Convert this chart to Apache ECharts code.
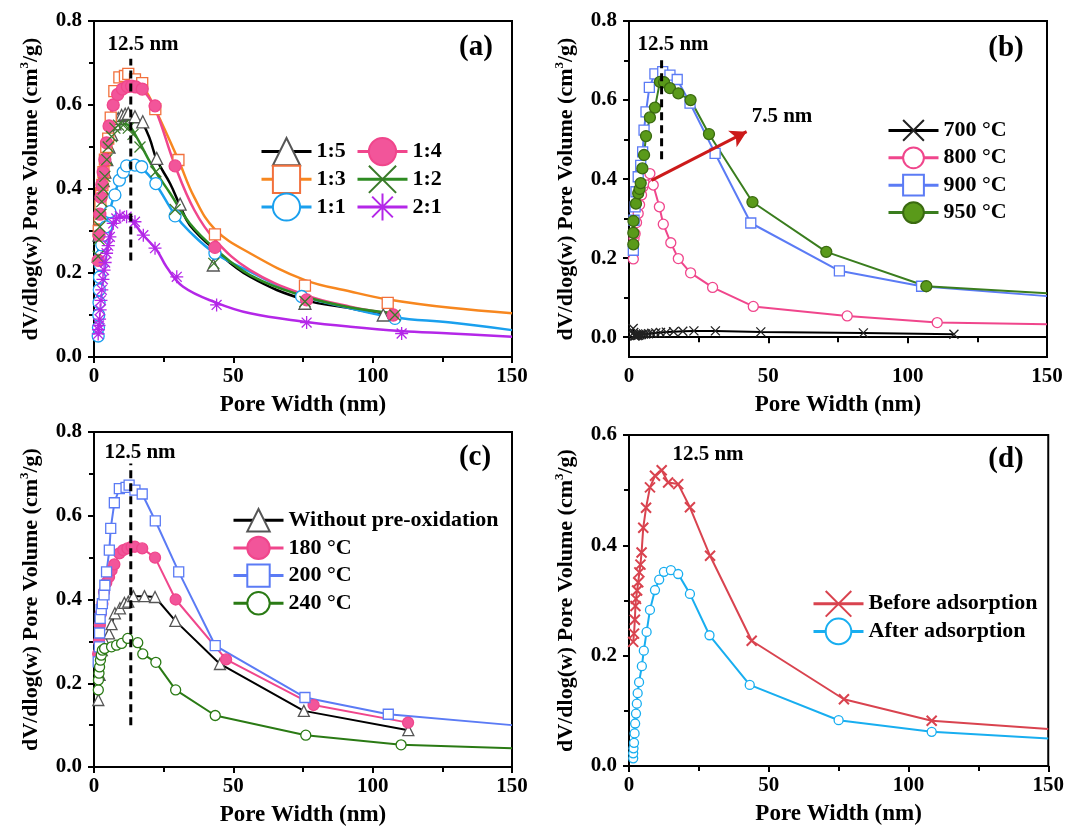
<!DOCTYPE html>
<html>
<head>
<meta charset="utf-8">
<script src="https://cdn.jsdelivr.net/npm/echarts@6/dist/echarts.min.js"></script>
<style>html,body{margin:0;padding:0;background:#fff}#c{width:1067px;height:828px}</style>
</head>
<body>
<div id="c"></div>
<script>
// ---------- Panel (a): markers ----------
const a15X = [1.5,1.8,2.1,2.5,2.8,3.3,3.9,4.6,5.4,6.3,7.5,8.7,9.9,11.2,12.3,14.7,17.5,22.5,30.9,42.8,75.7,103.8];
const a15Y = [0.24,0.29,0.33,0.37,0.40,0.42,0.44,0.47,0.50,0.53,0.555,0.568,0.575,0.578,0.580,0.572,0.560,0.473,0.364,0.219,0.128,0.100];
const a14X = [1.5,1.8,2.1,2.5,2.8,3.3,3.9,4.5,5.4,6.9,8.5,10.2,12.0,13.5,15.0,17.3,21.9,29.1,43.4,76.3,107.4];
const a14Y = [0.23,0.29,0.34,0.38,0.41,0.44,0.47,0.51,0.55,0.60,0.625,0.638,0.644,0.645,0.643,0.638,0.598,0.455,0.261,0.136,0.100];
const a13X = [1.7,2.0,2.3,2.6,3.0,3.4,3.9,4.4,5.1,6.0,7.3,9.1,11.1,12.3,14.7,17.3,22.0,30.3,43.4,75.7,105.4];
const a13Y = [0.30,0.33,0.36,0.39,0.41,0.44,0.47,0.50,0.52,0.57,0.633,0.666,0.669,0.674,0.661,0.652,0.590,0.469,0.292,0.170,0.129];
const a12X = [1.5,1.8,2.1,2.5,2.8,3.3,3.9,4.6,5.1,6.3,7.5,8.8,10.5,12.3,14.0,16.5,22.2,29.1,43.0,75.7,108];
const a12Y = [0.24,0.28,0.31,0.34,0.37,0.40,0.43,0.47,0.50,0.525,0.545,0.552,0.552,0.545,0.53,0.50,0.441,0.351,0.223,0.132,0.100];
const a11X = [1.5,1.6,1.7,1.8,1.9,2.0,2.2,2.4,2.8,3.4,4.3,5.7,7.5,9.1,10.5,11.7,14.7,17.1,22.2,29.1,43.4,74.5,108];
const a11Y = [0.05,0.07,0.10,0.13,0.16,0.19,0.22,0.24,0.267,0.29,0.31,0.346,0.386,0.421,0.44,0.455,0.457,0.453,0.413,0.336,0.247,0.144,0.092];
const a21X = [1.5,1.6,1.8,2.0,2.2,2.5,2.8,3.2,3.6,4.0,4.5,5.1,5.7,6.9,8.0,9.3,11.7,14.7,17.7,21.9,29.7,44.0,76.3,110.4];
const a21Y = [0.055,0.065,0.075,0.09,0.112,0.135,0.16,0.185,0.207,0.225,0.247,0.265,0.286,0.318,0.33,0.336,0.334,0.322,0.29,0.259,0.191,0.124,0.082,0.056];
// ---------- Panel (a): fitted curves ----------
const a15cX = [1.5,2.5,3.5,5.0,7.0,9.0,11.0,13.0,16.0,17.5,20.0,22.5,27.3,30.9,34.4,43.4,56,75.7,92,104];
const a15cY = [0.24,0.36,0.43,0.49,0.545,0.568,0.575,0.572,0.56,0.555,0.52,0.47,0.413,0.36,0.314,0.255,0.191,0.136,0.116,0.100];
const a14cX = [1.5,2.5,3.5,5.0,7.0,9.0,12.0,15.0,18.0,22.0,29.0,36.0,43.4,56,75.7,92,108];
const a14cY = [0.23,0.37,0.45,0.54,0.60,0.632,0.643,0.642,0.632,0.59,0.457,0.35,0.279,0.207,0.148,0.120,0.102];
const a13cX = [1.7,2.5,3.5,5.0,7.0,9.0,12.0,15.0,18.0,22.0,30.3,36.0,43.4,56,75.7,92,105.6,128,150];
const a13cY = [0.30,0.38,0.45,0.53,0.61,0.645,0.66,0.658,0.64,0.59,0.469,0.38,0.304,0.247,0.183,0.156,0.137,0.117,0.104];
const a12cX = [1.5,2.5,3.5,5.0,7.0,9.0,11.0,13.0,16.0,20.0,22.2,27.3,34.4,43.4,56,75.7,92,108];
const a12cY = [0.24,0.36,0.43,0.50,0.54,0.553,0.555,0.548,0.515,0.465,0.44,0.39,0.318,0.258,0.195,0.144,0.118,0.104];
const a11cX = [1.5,1.8,2.2,2.8,3.5,4.5,5.7,7.5,9.1,11.7,14.7,17.1,22.0,29.1,34.4,43.4,56,74.5,92,108,128,150];
const a11cY = [0.05,0.13,0.20,0.26,0.29,0.32,0.35,0.39,0.42,0.45,0.455,0.45,0.413,0.338,0.298,0.247,0.203,0.146,0.116,0.094,0.082,0.064];
const a21cX = [1.5,2.0,2.8,3.6,4.5,5.7,7.0,9.3,11.7,14.7,17.7,22.5,26.0,32.0,44.0,56,75.7,92,110,128,150];
const a21cY = [0.055,0.09,0.16,0.21,0.25,0.285,0.315,0.333,0.333,0.315,0.29,0.255,0.215,0.167,0.129,0.104,0.084,0.072,0.062,0.056,0.048];
const aDashX = [13.2,13.2];
const aDashY = [0.23,0.71];

// ---------- Panel (b) ----------
const b700X = [1.5,1.7,1.9,2.1,2.4,2.7,3.0,3.4,3.9,4.5,5.2,6.0,7.0,8.2,9.6,11.3,13.4,16.0,19.3,23.3,31.0,47.3,84.1,116.6];
const b700Y = [0.022,0.012,0.005,0.003,0.004,0.006,0.004,0.005,0.006,0.007,0.008,0.008,0.009,0.010,0.011,0.012,0.013,0.014,0.015,0.016,0.016,0.0135,0.011,0.0076];
const b800X = [1.55,1.8,2.2,2.7,3.3,3.8,4.5,5.0,5.5,6.3,7.5,8.7,10.9,12.3,15.0,17.7,22.1,30.0,44.6,78.3,110.6,150];
const b800Y = [0.198,0.25,0.262,0.29,0.313,0.335,0.36,0.38,0.39,0.41,0.414,0.385,0.330,0.286,0.239,0.199,0.163,0.126,0.078,0.054,0.037,0.033];
const b900X = [1.55,1.8,2.2,2.5,3.3,4.2,4.9,5.4,6.1,7.3,9.3,12.1,14.7,17.3,21.9,30.9,43.7,75.5,105,150];
const b900Y = [0.22,0.296,0.33,0.368,0.406,0.435,0.469,0.524,0.570,0.632,0.666,0.672,0.663,0.652,0.592,0.465,0.289,0.168,0.129,0.104];
const b950X = [1.55,1.55,1.6,2.5,3.3,3.8,4.2,4.8,5.4,6.1,7.5,9.3,11.1,12.6,14.7,17.7,22.1,28.7,44.3,70.8,106.7,150];
const b950Y = [0.235,0.264,0.294,0.338,0.364,0.375,0.39,0.427,0.461,0.509,0.556,0.581,0.646,0.645,0.63,0.617,0.60,0.514,0.342,0.216,0.129,0.111];
const bDashX = [11.7,11.7];
const bDashY = [0.45,0.71];
const bArrowX = [8.1,42.2];
const bArrowY = [0.397,0.52];

// ---------- Panel (c) ----------
const cWoX = [1.55,2.0,2.8,3.9,5.4,6.3,7.5,9.3,10.9,12.3,14.1,18.1,21.9,29.2,45.2,75.3,112.8];
const cWoY = [0.160,0.22,0.279,0.299,0.319,0.341,0.367,0.379,0.392,0.395,0.408,0.408,0.406,0.349,0.246,0.134,0.088];
const c180X = [1.5,1.8,2.1,2.5,3.0,3.6,4.4,5.4,6.3,7.3,9.1,10.5,12.0,13.5,14.7,17.3,21.9,29.3,47.4,78.8,112.7];
const c180Y = [0.27,0.30,0.339,0.367,0.39,0.418,0.44,0.454,0.47,0.484,0.51,0.518,0.522,0.526,0.526,0.522,0.50,0.40,0.257,0.148,0.106];
const c200X = [1.5,1.9,2.0,2.2,2.6,3.0,3.6,3.9,4.5,5.5,6.0,7.3,9.1,11.5,12.6,14.7,17.3,22.0,30.4,43.5,75.7,105.6,150];
const c200Y = [0.251,0.287,0.320,0.355,0.376,0.390,0.411,0.434,0.466,0.518,0.570,0.631,0.665,0.668,0.673,0.661,0.652,0.588,0.466,0.290,0.166,0.126,0.100];
const c240X = [1.55,1.6,1.8,2.0,2.3,2.6,3.0,3.8,6.3,8.1,9.9,12.1,15.7,17.5,22.2,29.3,43.5,76.0,110.2,150];
const c240Y = [0.184,0.208,0.224,0.239,0.255,0.267,0.279,0.283,0.287,0.291,0.295,0.307,0.297,0.270,0.250,0.184,0.123,0.076,0.053,0.045];
const cDashX = [13.2,13.2];
const cDashY = [0.10,0.725];

// ---------- Panel (d) ----------
const dBeforeX = [1.5,1.8,2.1,2.3,2.5,2.9,3.3,3.7,4.1,4.5,5.1,6.1,7.5,9.3,11.7,14.0,17.6,21.8,29.0,43.9,76.9,108.3,150];
const dBeforeY = [0.225,0.24,0.265,0.290,0.303,0.318,0.333,0.351,0.365,0.387,0.432,0.468,0.505,0.526,0.536,0.514,0.511,0.469,0.381,0.227,0.121,0.082,0.067];
const dAfterX = [1.5,1.5,1.6,1.8,2.0,2.2,2.5,2.8,3.1,3.6,4.6,5.3,6.3,7.5,9.3,10.8,12.5,15.0,17.6,21.8,28.8,43.2,75.0,108.3,150];
const dAfterY = [0.014,0.023,0.032,0.042,0.059,0.077,0.095,0.113,0.132,0.152,0.181,0.209,0.243,0.283,0.319,0.338,0.352,0.355,0.348,0.312,0.237,0.147,0.083,0.062,0.050];

// tick values
const yTicksB = [0,0.2,0.4,0.6,0.8];
const yMinorB = [0.1,0.3,0.5,0.7];

const FONT = "'Liberation Serif','Times New Roman',serif";
const XMAX = 150;

const chart = echarts.init(document.getElementById('c'), null, {renderer:'canvas'});

const grids = [
  {left:94, top:21, width:418, height:336},
  {left:629, top:21, width:418, height:336},
  {left:94, top:432, width:418, height:335},
  {left:629, top:435, width:420, height:331}
].map(g => Object.assign(g, {show:true, borderColor:'#000', borderWidth:2, backgroundColor:'transparent'}));

function xAx(i){
  return {
    type:'value', gridIndex:i, min:0, max:150, interval:50,
    name:'Pore Width (nm)', nameLocation:'middle', nameGap:37,
    nameTextStyle:{fontFamily:FONT, fontWeight:'bold', fontSize:23, color:'#000'},
    axisLine:{lineStyle:{color:'#000', width:2}},
    axisTick:{show:true, length:6, lineStyle:{color:'#000', width:2}},
    minorTick:{show:true, splitNumber:2, length:5, lineStyle:{color:'#000', width:2}},
    axisLabel:{fontFamily:FONT, fontWeight:'bold', fontSize:21, color:'#000', margin:9},
    splitLine:{show:false}
  };
}
const yName = '{a|dV/dlog(w) Pore Volume (cm}{s|3}{a|/g)}';
const yNameStyle = {fontFamily:FONT, fontWeight:'bold', fontSize:22, color:'#000',
  rich:{a:{fontFamily:FONT, fontWeight:'bold', fontSize:22, color:'#000', lineHeight:26},
        s:{fontFamily:FONT, fontWeight:'bold', fontSize:13, color:'#000', verticalAlign:'top', lineHeight:26}}};
const yLabel = {fontFamily:FONT, fontWeight:'bold', fontSize:21, color:'#000', margin:12, formatter:v=>v.toFixed(1)};
function yAx(i, min, max){
  return {
    type:'value', gridIndex:i, min:min, max:max, interval:0.2,
    name:yName, nameLocation:'middle', nameGap:50, nameRotate:90, nameTextStyle:yNameStyle,
    axisLine:{show:true, lineStyle:{color:'#000', width:2}},
    axisTick:{show:true, length:6, lineStyle:{color:'#000', width:2}},
    minorTick:{show:true, splitNumber:2, length:5, lineStyle:{color:'#000', width:2}},
    axisLabel:yLabel,
    splitLine:{show:false}
  };
}
const yB = {
  type:'value', gridIndex:1, min:-0.05, max:0.8,
  name:yName, nameLocation:'middle', nameGap:50, nameRotate:90, nameTextStyle:yNameStyle,
  axisLine:{show:true, lineStyle:{color:'#000', width:2}},
  axisTick:{show:true, length:6, customValues:yTicksB, lineStyle:{color:'#000', width:2}},
  axisLabel:Object.assign({customValues:yTicksB}, yLabel),
  splitLine:{show:false}
};
const yBminor = {type:'value', gridIndex:1, min:-0.05, max:0.8, position:'left',
   axisLine:{show:false}, axisLabel:{show:false}, splitLine:{show:false},
   axisTick:{show:true, length:5, customValues:yMinorB, lineStyle:{color:'#000', width:2}}};

const yAxes = [yAx(0,0,0.8), yB, yAx(2,0,0.8), yAx(3,0,0.6), yBminor];

const XPATH = 'path://M0 0L10 10M0 10L10 0';
const STAR = 'path://M5 0L5 10M0 5L10 5M1.2 1.2L8.8 8.8M1.2 8.8L8.8 1.2';

function pts(xs, ys){
  return xs.map((x,i)=> x>=XMAX ? {value:[x,ys[i]], symbol:'none'} : [x, ys[i]]);
}
function S(name, xs, ys, gi, o){
  return {
    type:'line', name:name, xAxisIndex:gi, yAxisIndex:gi, data:pts(xs,ys),
    symbol:o.symbol, symbolSize:o.size||10, smooth:false,
    clip:true, z:o.z||3,
    lineStyle:{color:o.line, width:o.lw||2, opacity:o.hideLine?0:1},
    itemStyle:{color:o.fill, borderColor:o.border||o.line, borderWidth:o.bw||1.3},
    emphasis:{disabled:true}, animation:false
  };
}
function curve(xs, ys, gi, color){
  return {type:'line', xAxisIndex:gi, yAxisIndex:gi, data:xs.map((x,i)=>[x,ys[i]]),
    symbol:'none', smooth:0.4, z:2, silent:true, animation:false, clip:true,
    lineStyle:{color:color, width:2.5}};
}
function dash(xs, ys, gi){
  return {type:'line', xAxisIndex:gi, yAxisIndex:gi, data:xs.map((x,i)=>[x,ys[i]]),
    symbol:'none', z:10, silent:true, animation:false,
    lineStyle:{color:'#000', width:3, type:[8,5]}};
}

const C = {k:'#000000', o:'#f7871f', cy:'#1aa0ee', p:'#f0468c', g:'#2e8b22', pu:'#b427e8'};

const series = [
  curve(a15cX, a15cY, 0, C.k),
  curve(a13cX, a13cY, 0, C.o),
  curve(a11cX, a11cY, 0, C.cy),
  curve(a14cX, a14cY, 0, C.p),
  curve(a12cX, a12cY, 0, C.g),
  curve(a21cX, a21cY, 0, C.pu),
  S('1:5', a15X, a15Y, 0, {symbol:'triangle', size:12, line:C.k, fill:'#ffffff', border:'#555', hideLine:true}),
  S('1:3', a13X, a13Y, 0, {symbol:'rect', size:11, line:C.o, fill:'#ffffff', border:'#f2703c', hideLine:true}),
  S('1:1', a11X, a11Y, 0, {symbol:'circle', size:12, line:C.cy, fill:'#ffffff', border:C.cy, hideLine:true}),
  S('1:4', a14X, a14Y, 0, {symbol:'circle', size:12, line:C.p, fill:'#f2559a', border:C.p, hideLine:true}),
  S('1:2', a12X, a12Y, 0, {symbol:XPATH, size:11, line:C.g, fill:'rgba(0,0,0,0)', border:'#3a7a2a', hideLine:true}),
  S('2:1', a21X, a21Y, 0, {symbol:STAR, size:13, line:C.pu, fill:'rgba(0,0,0,0)', border:C.pu, hideLine:true}),
  dash(aDashX, aDashY, 0),

  S('700 °C', b700X, b700Y, 1, {symbol:XPATH, size:9, line:'#000000', fill:'rgba(0,0,0,0)', border:'#222'}),
  S('800 °C', b800X, b800Y, 1, {symbol:'circle', size:10, line:'#f0468c', fill:'#ffffff', border:'#f0468c'}),
  S('900 °C', b900X, b900Y, 1, {symbol:'rect', size:10, line:'#5b7bf5', fill:'#ffffff', border:'#5b7bf5'}),
  S('950 °C', b950X, b950Y, 1, {symbol:'circle', size:11, line:'#3a7d1e', fill:'#5a9a1a', border:'#3a6a10'}),
  dash(bDashX, bDashY, 1),
  {type:'line', xAxisIndex:1, yAxisIndex:1, data:[], z:11, silent:true, animation:false,
   markLine:{silent:true, symbol:['none','arrow'], symbolSize:[14,16], animation:false,
     label:{show:false}, lineStyle:{color:'#cc1a1a', width:3, type:'solid'},
     data:[[{coord:[bArrowX[0],bArrowY[0]]},{coord:[bArrowX[1],bArrowY[1]]}]]}},

  S('Without pre-oxidation', cWoX, cWoY, 2, {symbol:'triangle', size:11, line:'#000000', fill:'#ffffff', border:'#555'}),
  S('180 °C', c180X, c180Y, 2, {symbol:'circle', size:11, line:'#f0468c', fill:'#f2559a', border:'#f0468c'}),
  S('200 °C', c200X, c200Y, 2, {symbol:'rect', size:10, line:'#5b7bf5', fill:'#ffffff', border:'#5b7bf5'}),
  S('240 °C', c240X, c240Y, 2, {symbol:'circle', size:10, line:'#2a7a14', fill:'#ffffff', border:'#2a7a14'}),
  dash(cDashX, cDashY, 2),

  S('Before adsorption', dBeforeX, dBeforeY, 3, {symbol:XPATH, size:10, line:'#d9434f', fill:'rgba(0,0,0,0)', border:'#d9434f', bw:2}),
  S('After adsorption', dAfterX, dAfterY, 3, {symbol:'circle', size:9, line:'#18aef0', fill:'#ffffff', border:'#18aef0'})
];

function leg(names, left, top, ih, gap){
  return {data:names, left:left, top:top, orient:'vertical', itemWidth:50, itemHeight:ih, itemGap:gap,
    padding:0, selectedMode:false,
    textStyle:{fontFamily:FONT, fontWeight:'bold', fontSize:22, color:'#000'},
    lineStyle:{width:3, opacity:1}};
}

function T(text, x, y, size){
  return {type:'text', x:x, y:y, z:100, style:{text:text, fill:'#000',
    font:'bold '+size+'px '+FONT, textAlign:'center', textVerticalAlign:'middle'}};
}

chart.setOption({
  animation:false,
  backgroundColor:'#ffffff',
  grid:grids,
  xAxis:[xAx(0),xAx(1),xAx(2),xAx(3)],
  yAxis:yAxes,
  legend:[
    leg(['1:5','1:3','1:1'], 260, 137, 34, -1.5),
    leg(['1:4','1:2','2:1'], 356, 137, 34, -1.5),
    leg(['700 °C','800 °C','900 °C','950 °C'], 887, 119, 26, 4.6),
    leg(['Without pre-oxidation','180 °C','200 °C','240 °C'], 232, 508, 28, 3.3),
    leg(['Before adsorption','After adsorption'], 812, 590, 32, 0)
  ],
  series:series,
  graphic:[
    T('12.5 nm',143,45,21), T('(a)',476,48,29),
    T('12.5 nm',673,45,21), T('(b)',1006,49,29), T('7.5 nm',782,117,21),
    T('12.5 nm',140,453,21), T('(c)',475,458,29),
    T('12.5 nm',708,455,21), T('(d)',1006,460,29)
  ]
});
</script>
</body>
</html>
